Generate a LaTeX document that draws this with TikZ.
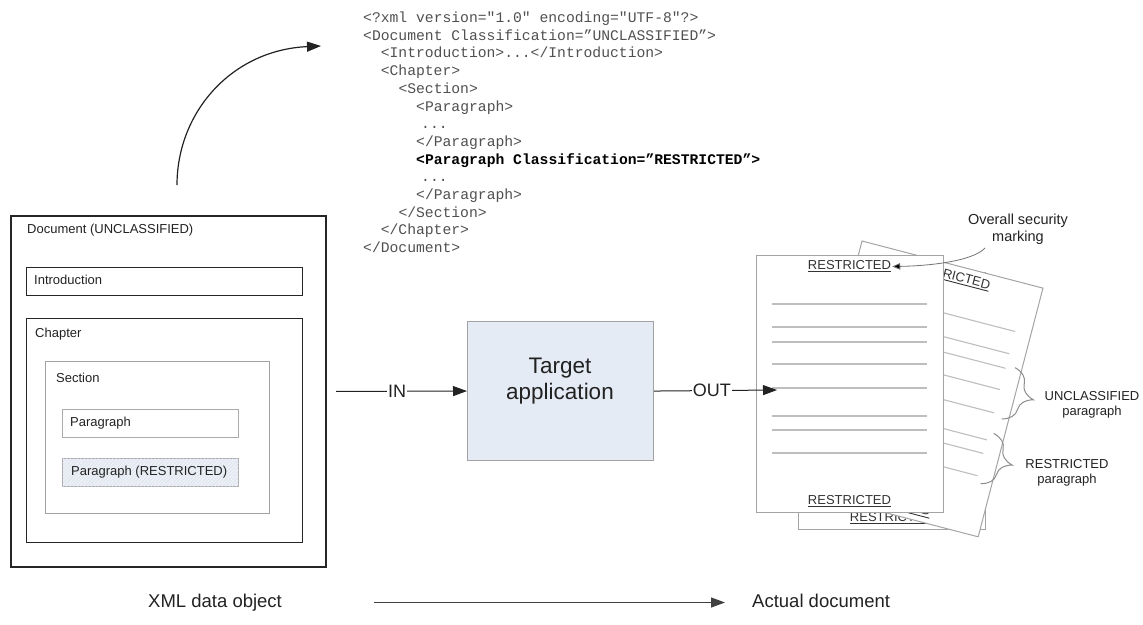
\documentclass[tikz,border=0pt]{standalone}
\usepackage{fontspec}
\setmainfont{Liberation Sans}
\newfontfamily\codefont{Liberation Mono}
\usetikzlibrary{arrows.meta,decorations.pathreplacing,patterns.meta}

\definecolor{ink}{HTML}{222222}
\definecolor{codegray}{HTML}{505050}
\definecolor{frame}{HTML}{262626}
\definecolor{softframe}{HTML}{A2A2A2}
\definecolor{appfill}{HTML}{E5EBF5}
\definecolor{parafill}{HTML}{EDF1F7}
\definecolor{hatch}{HTML}{D5DDEA}
\definecolor{pageline}{HTML}{BEBEBE}
\definecolor{pageedge}{HTML}{A4A4A4}
\definecolor{bracegray}{HTML}{8C8C8C}

\newcommand\pxfont[1]{\fontsize{#1}{#1}\selectfont}
\newcommand\markul[1]{\setbox0\hbox{#1}\rlap{\rule[-2.4pt]{\wd0}{0.9pt}}\box0}

\tikzset{
  lbl/.style={inner sep=0pt, anchor=west, text=ink, font=\pxfont{13}},
  caption/.style={inner sep=0pt, anchor=base west, text=ink, font=\pxfont{18.5},
    text height=13pt, text depth=4pt},
  codeline/.style={inner sep=0pt, anchor=base west, text=codegray, font=\codefont\pxfont{14.7}},
  outerbox/.style={draw=frame, line width=2pt, anchor=north west, inner sep=0pt},
  midbox/.style={draw=frame, line width=1.3pt, anchor=north west, inner sep=0pt},
  softbox/.style={draw=softframe, line width=1pt, anchor=north west, inner sep=0pt},
  conn/.style={draw=ink, line width=1pt, -{Triangle[length=14pt,width=10pt]}},
  flowlbl/.style={fill=white, inner sep=1pt, text=ink, font=\pxfont{18}},
  marktext/.style={inner sep=1pt, text=black!80, font=\pxfont{13}},
  docpage/.pic={
    \path[draw=pageedge, fill=white, line width=1pt] (0,0) rectangle (187,257);
    \foreach \v in {49,72,87,109,133,161,175,198}
      \draw[pageline, line width=1.1pt] (16,\v) -- (171,\v);
    \node[marktext] (-top) at (93.5,11.5) {\markul{RESTRICTED}};
    \node[marktext] (-bot) at (93.5,246) {\markul{RESTRICTED}};
  },
  pbrace/.style={draw=bracegray, line width=1pt, decorate,
    decoration={brace, amplitude=26pt, aspect=0.5}}
}

\begin{document}
\begin{tikzpicture}[x=1pt,y=-1pt]
\useasboundingbox (0,0) rectangle (1143,624);

% ---------- XML document structure ----------
\node[outerbox, minimum width=315, minimum height=351] (doc) at (10,215) {};
\node[lbl] (doclbl) at (27,230) {Document (UNCLASSIFIED)};
\node[midbox, minimum width=276, minimum height=28] (intro) at (26,267) {};
\node[lbl] (introlbl) at (34,280) {Introduction};
\node[midbox, minimum width=276, minimum height=224] (chap) at (26,318) {};
\node[lbl] (chaplbl) at (35,334) {Chapter};
\node[softbox, minimum width=224, minimum height=152] (sect) at (45,361) {};
\node[lbl] (sectlbl) at (56,378) {Section};
\node[softbox, draw=softframe!90, minimum width=176, minimum height=28] (para) at (62,409) {};
\node[lbl] (paralbl) at (70,423) {Paragraph};
\node[softbox, draw=softframe!90, fill=parafill, minimum width=176, minimum height=28,
      postaction={pattern={Lines[angle=45,distance=2.5pt,line width=0.4pt]}, pattern color=hatch}] (rpara) at (62,458) {};
\node[lbl] (rparalbl) at (71,472) {Paragraph (RESTRICTED)};

% ---------- XML listing ----------
\node[codeline] (c1)  at (363,22.5)  {<?xml version="1.0" encoding="UTF-8"?>};
\node[codeline] (c2)  at (363,40.2)  {<Document Classification=”UNCLASSIFIED”>};
\node[codeline] (c3)  at (380.6,57.9)  {<Introduction>...</Introduction>};
\node[codeline] (c4)  at (380.6,75.6)  {<Chapter>};
\node[codeline] (c5)  at (398.3,93.3)  {<Section>};
\node[codeline] (c6)  at (416,111)   {<Paragraph>};
\node[codeline] (c7)  at (421,128.7) {...};
\node[codeline] (c8)  at (416,146.4) {</Paragraph>};
\node[codeline, text=black, font=\codefont\bfseries\pxfont{14.7}] (c9) at (416,164.1) {<Paragraph Classification=”RESTRICTED”>};
\node[codeline] (c10) at (421,181.8) {...};
\node[codeline] (c11) at (416,199.5) {</Paragraph>};
\node[codeline] (c12) at (398.3,217.2) {</Section>};
\node[codeline] (c13) at (380.6,234.9) {</Chapter>};
\node[codeline] (c14) at (363,252.6) {</Document>};

% curved arrow from the structure to its XML form
\coordinate (xmlsrc) at (177,185);
\coordinate (xmltgt) at (321,46);
\draw[conn, line width=1.2pt] (xmlsrc) .. controls (177,112) and (232,50) .. (xmltgt);

% ---------- target application ----------
\node[draw=softframe, fill=appfill, line width=1.1pt, anchor=north west, inner sep=0pt,
      minimum width=186, minimum height=139] (app) at (467,321) {};
\node[align=center, text=ink, font=\pxfont{22.5}, inner sep=0pt] (applbl) at (560,381) {Target\\[3pt]application};

\draw[conn, shorten <=9pt] (doc.east) -- node[flowlbl] (inlbl) {IN} (app.west);

% ---------- printed pages ----------
\pic (back) at (798,272) {docpage};
\begin{scope}[shift={(862,241)}, rotate=-14.6, transform shape]
  \pic (tilt) at (0,0) {docpage};
  \draw[pbrace] (180,84) -- (180,137);
  \draw[pbrace] (176,153) -- (176,205);
\end{scope}
\pic (front) at (756,255) {docpage};

\coordinate (outtip) at (777,390);
\draw[conn] (app.east) -- node[flowlbl, pos=0.47] (outlbl) {OUT} (outtip);

\node[align=center, text=ink, font=\pxfont{13}, inner sep=0pt] (unclbl) at (1092,405) {UNCLASSIFIED\\[2pt]paragraph};
\node[align=center, text=ink, font=\pxfont{13}, inner sep=0pt] (reslbl) at (1067,473) {RESTRICTED\\[2pt]paragraph};

\node[align=center, text=ink, font=\pxfont{14.5}, inner sep=0pt] (overall) at (1018,229) {Overall security\\[3pt]marking};
\coordinate (annfoot) at (985,248);
\draw[draw=black!55, line width=0.8pt, -{Triangle[length=8pt,width=6.5pt,fill=black]}]
  (annfoot) .. controls (972,262) and (925,266) .. (front-top.east);

% ---------- bottom caption ----------
\node[caption] (xmlobj) at (148,607) {XML data object};
\node[caption] (actual) at (752,607) {Actual document};
\draw[conn, draw=black!75, line width=1.3pt, shorten <=92pt, shorten >=27pt] (xmlobj.east) -- (actual.west);
\end{tikzpicture}
\end{document}
